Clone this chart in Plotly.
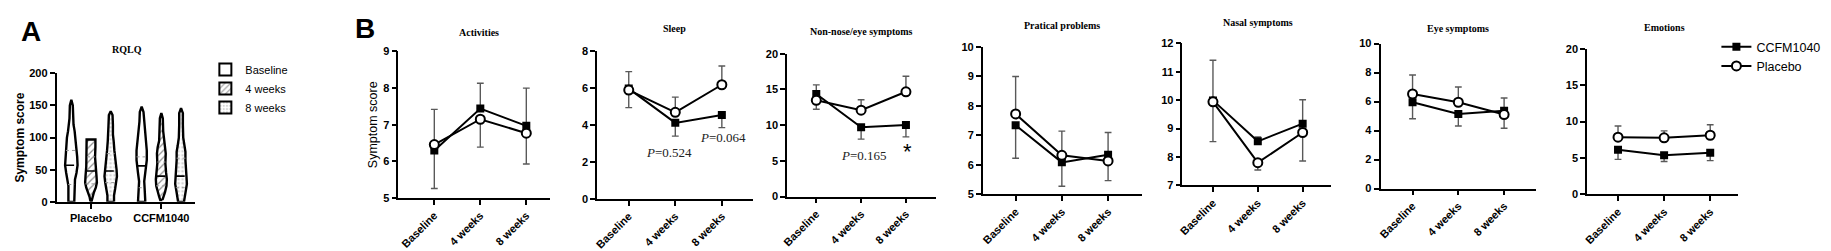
import numpy as np
import plotly.graph_objects as go

W, H = 1831, 251

# ---------------- data ----------------
categories = ["Baseline", "4 weeks", "8 weeks"]
groups_a = ["Placebo", "CCFM1040"]
timepoints_a = ["Baseline", "4 weeks", "8 weeks"]

# Panel A violin profiles (score levels and relative density half-widths)
pl_bl_y = [0, 10, 25, 35, 45, 57, 70, 85, 100, 110, 120, 130, 150, 159]
pl_bl_w = [8, 8, 8, 10, 14, 17, 16, 14, 12, 9, 6, 5, 4, 0]
pl_4w_y = [0, 2, 8, 15, 22, 30, 40, 55, 70, 85, 97]
pl_4w_w = [1, 2, 4, 8, 13, 16, 15, 13, 11, 12, 12]
pl_8w_y = [0, 10, 20, 30, 40, 50, 65, 80, 95, 105, 120, 135, 141]
pl_8w_w = [9, 9, 12, 15, 17, 16, 12, 10, 8, 6, 6, 5, 0]
cc_bl_y = [0, 12, 22, 32, 45, 55, 65, 80, 95, 110, 125, 140, 148]
cc_bl_w = [10, 10, 8, 7, 10, 13, 14, 14, 12, 9, 6, 5, 0]
cc_4w_y = [3, 8, 15, 25, 35, 45, 60, 75, 85, 95, 110, 130, 138]
cc_4w_w = [3, 6, 10, 14, 15, 13, 11, 12, 10, 6, 5, 4, 0]
cc_8w_y = [0, 8, 18, 28, 38, 50, 65, 78, 88, 100, 120, 138, 146]
cc_8w_w = [8, 10, 13, 16, 15, 13, 12, 12, 9, 6, 5, 5, 0]
violin_median = [57, 48, 48, 56, 40, 40]
violin_q1 = [27, 28, 30, 22, 25, 22]
violin_q3 = [80, 70, 75, 70, 62, 68]

# Panel B: means and SEM for CCFM1040 and Placebo
panel_titles = ["Activities", "Sleep", "Non-nose/eye symptoms", "Pratical problems",
                "Nasal symptoms", "Eye symptoms", "Emotions"]
ccfm_activities = [6.30, 7.44, 6.97]
placebo_activities = [6.46, 7.15, 6.77]
ccfm_err_activities = [1.04, 0.69, 1.03]
placebo_err_activities = [0.96, 0.76, 0.84]

ccfm_sleep = [5.98, 4.12, 4.55]
placebo_sleep = [5.90, 4.69, 6.19]
ccfm_err_sleep = [0.92, 0.72, 0.69]
placebo_err_sleep = [0.95, 0.83, 1.02]

ccfm_nonnose = [14.36, 9.69, 10.0]
placebo_nonnose = [13.47, 12.09, 14.67]
ccfm_err_nonnose = [1.28, 1.65, 1.64]
placebo_err_nonnose = [1.25, 1.47, 2.17]

ccfm_practical = [7.34, 6.08, 6.34]
placebo_practical = [7.72, 6.32, 6.13]
ccfm_err_practical = [1.12, 0.81, 0.75]
placebo_err_practical = [1.27, 0.82, 0.67]

ccfm_nasal = [9.99, 8.55, 9.17]
placebo_nasal = [9.94, 7.80, 8.86]
ccfm_err_nasal = [1.41, 0.15, 0.84]
placebo_err_nasal = [1.40, 0.26, 1.00]

ccfm_eye = [5.95, 5.14, 5.36]
placebo_eye = [6.52, 5.95, 5.10]
ccfm_err_eye = [1.14, 0.83, 0.88]
placebo_err_eye = [1.31, 1.05, 0.94]

ccfm_emotions = [6.11, 5.37, 5.72]
placebo_emotions = [7.86, 7.77, 8.12]
ccfm_err_emotions = [1.31, 0.87, 1.09]
placebo_err_emotions = [1.53, 0.96, 1.44]

# ---------------- helpers ----------------
def px_x(p):
    return p / W

def px_y(p):
    return 1 - p / H

BLACK = "black"
SANS = "Liberation Sans"
SERIF = "Liberation Serif"

fig = go.Figure()

def axis_style(**kw):
    d = dict(showline=True, linecolor=BLACK, linewidth=1.7, ticks="outside",
             ticklen=5, tickwidth=1.5, tickcolor=BLACK, showgrid=False,
             zeroline=False, fixedrange=True,
             tickfont=dict(family=SANS, size=11, color=BLACK, weight="bold"))
    d.update(kw)
    return d

def paper_note(text, x, y, **kw):
    d = dict(text=text, x=px_x(x), y=px_y(y), xref="paper", yref="paper",
             showarrow=False, xanchor="center", yanchor="middle")
    d.update(kw)
    return d

# ---------------- Panel A ----------------
profiles = [(pl_bl_y, pl_bl_w), (pl_4w_y, pl_4w_w), (pl_8w_y, pl_8w_w),
            (cc_bl_y, cc_bl_w), (cc_4w_y, cc_4w_w), (cc_8w_y, cc_8w_w)]
offsets = [-0.28, 0.0, 0.28]
wscale = 1.1 / 3 / 70.4
patterns = [None,
            dict(shape="/", fgcolor="#222", bgcolor="white", size=5, solidity=0.25),
            dict(shape=".", fgcolor="#aaaaaa", bgcolor="white", size=4, solidity=0.35)]

k = 0
for gi, g in enumerate(groups_a):
    for ti, t in enumerate(timepoints_a):
        yv, wv = profiles[k]
        yv = np.array(yv, float)
        wv = np.array(wv, float) * wscale
        c = gi + offsets[ti]
        xs = np.concatenate([c + wv, (c - wv)[::-1], [c + wv[0]]])
        ys = np.concatenate([yv, yv[::-1], [yv[0]]])
        tr = dict(x=xs, y=ys, mode="lines", fill="toself", fillcolor="white",
                  line=dict(color=BLACK, width=2.4), name=t, showlegend=False,
                  xaxis="x", yaxis="y", hoverinfo="skip")
        if patterns[ti] is not None:
            tr["fillpattern"] = patterns[ti]
        fig.add_trace(go.Scatter(**tr))
        for val, dash, col, lw in [(violin_median[k], "dash", BLACK, 1.6),
                                   (violin_q1[k], "dot", "#999999", 1.0),
                                   (violin_q3[k], "dot", "#999999", 1.0)]:
            hw = np.interp(val, yv, wv)
            fig.add_trace(go.Scatter(x=[c - hw, c + hw], y=[val, val], mode="lines",
                                     line=dict(color=col, width=lw, dash=dash),
                                     showlegend=False, hoverinfo="skip",
                                     xaxis="x", yaxis="y"))
        k += 1

# legend entries for panel A (boxes with the same fills)
for ti, t in enumerate(timepoints_a):
    m = dict(color="white", line=dict(color=BLACK, width=2))
    if patterns[ti] is not None:
        m["pattern"] = patterns[ti]
    fig.add_trace(go.Bar(x=[None], y=[None], name=t, marker=m, legend="legend2",
                         xaxis="x", yaxis="y", hoverinfo="skip"))

ytitle_a = dict(text="<b>Symptom score</b>", font=dict(family=SANS, size=12, color=BLACK), standoff=2)
fig.update_layout(
    xaxis=axis_style(domain=[px_x(42.7), px_x(181.7)], range=[-0.49, 1.48],
                     tickvals=list(range(len(groups_a))), ticktext=groups_a,
                     anchor="y"),
    yaxis=axis_style(domain=[px_y(197.3), px_y(62.3)], range=[0, 200],
                     tickvals=[0, 50, 100, 150, 200], anchor="x", title=ytitle_a),
)

# ---------------- Panel B ----------------
ccfm_all = [ccfm_activities, ccfm_sleep, ccfm_nonnose, ccfm_practical, ccfm_nasal, ccfm_eye, ccfm_emotions]
plac_all = [placebo_activities, placebo_sleep, placebo_nonnose, placebo_practical, placebo_nasal, placebo_eye, placebo_emotions]
ccfm_err_all = [ccfm_err_activities, ccfm_err_sleep, ccfm_err_nonnose, ccfm_err_practical, ccfm_err_nasal, ccfm_err_eye, ccfm_err_emotions]
plac_err_all = [placebo_err_activities, placebo_err_sleep, placebo_err_nonnose, placebo_err_practical, placebo_err_nasal, placebo_err_eye, placebo_err_emotions]

# layout geometry (pixels): x0, x1, ytop, ybottom, yrange, yticks, xrange
geom = [
    (385.7, 538.0, 39.3, 193.3, [5, 9], [5, 6, 7, 8, 9], [-0.78, 2.52]),
    (585.0, 741.0, 39.3, 194.0, [0, 8], [0, 2, 4, 6, 8], [-0.68, 2.66]),
    (775.7, 925.0, 41.7, 191.7, [0, 20], [0, 5, 10, 15, 20], [-0.65, 2.67]),
    (972.0, 1132.0, 34.3, 189.3, [5, 10], [5, 6, 7, 8, 9, 10], [-0.71, 2.74]),
    (1172.3, 1321.7, 30.7, 180.0, [7, 12], [7, 8, 9, 10, 11, 12], [-0.68, 2.64]),
    (1371.0, 1526.7, 31.0, 183.3, [0, 10], [0, 2, 4, 6, 8, 10], [-0.70, 2.69]),
    (1578.3, 1730.0, 36.7, 189.3, [0, 20], [0, 5, 10, 15, 20], [-0.67, 2.61]),
]
title_pos = [(466.7, 19), (663, 15), (850, 18), (1051, 12), (1248, 9), (1449, 15), (1656, 14)]

xcat = list(range(len(categories)))
annotations = []
for i in range(7):
    ax_id = i + 2
    xa, ya = f"x{ax_id}", f"y{ax_id}"
    x0, x1, yt, yb, yr, yt_vals, xr = geom[i]
    c, p = ccfm_all[i], plac_all[i]
    ce, pe = ccfm_err_all[i], plac_err_all[i]
    c_plus = [e if a >= b else 0 for a, b, e in zip(c, p, ce)]
    c_minus = [0 if a >= b else e for a, b, e in zip(c, p, ce)]
    p_plus = [e if b > a else 0 for a, b, e in zip(c, p, pe)]
    p_minus = [0 if b > a else e for a, b, e in zip(c, p, pe)]
    fig.add_trace(go.Scatter(
        x=xcat, y=c, mode="lines+markers", name="CCFM1040",
        line=dict(color=BLACK, width=2),
        marker=dict(symbol="square", size=8, color=BLACK),
        error_y=dict(type="data", symmetric=False, array=c_plus, arrayminus=c_minus,
                     color="#595959", thickness=1.4, width=3.4),
        showlegend=(i == 0), legend="legend", xaxis=xa, yaxis=ya, hoverinfo="skip"))
    fig.add_trace(go.Scatter(
        x=xcat, y=p, mode="lines+markers", name="Placebo",
        line=dict(color=BLACK, width=2),
        marker=dict(symbol="circle", size=9, color="white", line=dict(color=BLACK, width=2)),
        error_y=dict(type="data", symmetric=False, array=p_plus, arrayminus=p_minus,
                     color="#595959", thickness=1.4, width=3.4),
        showlegend=(i == 0), legend="legend", xaxis=xa, yaxis=ya, hoverinfo="skip"))
    yextra = {}
    if i == 0:
        yextra["title"] = dict(text="Symptom score", font=dict(family=SANS, size=12.5, color=BLACK),
                               standoff=3)
    fig.update_layout(**{
        f"xaxis{ax_id}": axis_style(domain=[px_x(x0), px_x(x1)], range=xr,
                                    tickvals=xcat, ticktext=categories, tickangle=-45,
                                    anchor=ya),
        f"yaxis{ax_id}": axis_style(domain=[px_y(yb), px_y(yt)], range=yr,
                                    tickvals=yt_vals, anchor=xa, **yextra),
    })
    tx, ty = title_pos[i]
    annotations.append(paper_note(f"<b>{panel_titles[i]}</b>", tx, ty,
                                  font=dict(family=SERIF, size=10, color=BLACK)))

annotations.append(paper_note("<b>RQLQ</b>", 113, 37, font=dict(family=SERIF, size=10, color=BLACK)))
annotations.append(paper_note("<b>A</b>", 17, 18, font=dict(family=SANS, size=28, color=BLACK)))
annotations.append(paper_note("<b>B</b>", 352.5, 15, font=dict(family=SANS, size=28, color=BLACK)))

# P values and significance (data coordinates)
pfont = dict(family=SERIF, size=13, color="#222")
def data_note(text, x, y, xa, ya, font):
    return dict(text=text, x=x, y=y, xref=xa, yref=ya, showarrow=False,
                xanchor="center", yanchor="middle", font=font)
annotations.append(data_note("<i>P</i>=0.524", 0.86, 2.5, "x3", "y3", pfont))
annotations.append(data_note("<i>P</i>=0.064", 2.03, 3.3, "x3", "y3", pfont))
annotations.append(data_note("<i>P</i>=0.165", 1.07, 5.8, "x4", "y4", pfont))
annotations.append(data_note("*", 2.03, 6.25, "x4", "y4", dict(family=SANS, size=22, color=BLACK)))

fig.update_layout(
    width=W, height=H, margin=dict(l=0, r=0, t=0, b=0),
    paper_bgcolor="white", plot_bgcolor="white",
    annotations=annotations,
    barmode="overlay",
    legend=dict(x=px_x(1708), y=px_y(19), xanchor="left", yanchor="top",
                font=dict(family=SANS, size=12.5, color=BLACK), bgcolor="rgba(0,0,0,0)",
                tracegroupgap=0, itemclick=False),
    legend2=dict(x=px_x(192), y=px_y(43), xanchor="left", yanchor="top",
                 font=dict(family=SANS, size=11, color=BLACK), bgcolor="rgba(0,0,0,0)",
                 tracegroupgap=0, itemclick=False),
)

fig.write_html("out.html")
